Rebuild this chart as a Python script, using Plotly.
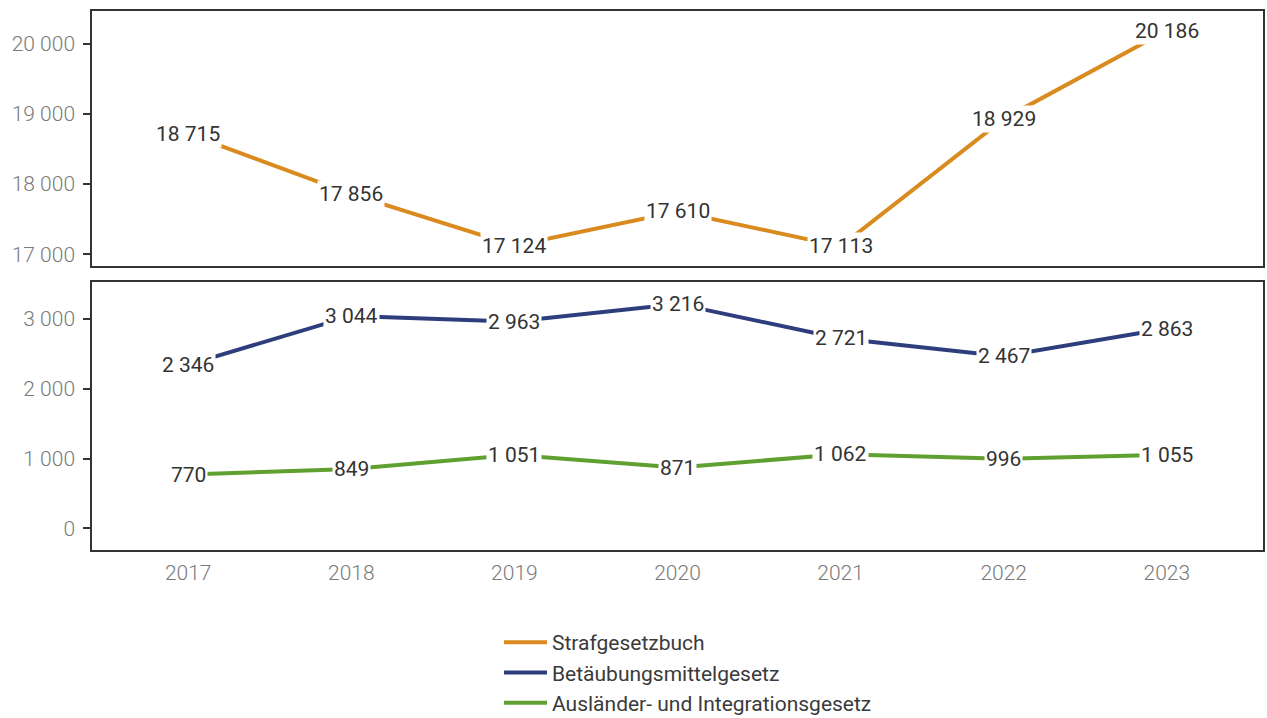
import plotly.graph_objects as go

# Annual counts by legal basis
years = [2017, 2018, 2019, 2020, 2021, 2022, 2023]
strafgesetzbuch = [18715, 17856, 17124, 17610, 17113, 18929, 20186]
betaeubungsmittelgesetz = [2346, 3044, 2963, 3216, 2721, 2467, 2863]
auslaendergesetz = [770, 849, 1051, 871, 1062, 996, 1055]

series_names = ["Strafgesetzbuch", "Betäubungsmittelgesetz",
                "Ausländer- und Integrationsgesetz"]
colors = ["#DA8B20", "#2E3E7D", "#60A030"]

W, H = 1267, 718
FONT = "Roboto"
LABEL_COLOR = "#333333"
TICK_COLOR = "#7a7a7a"
FRAME = "#333333"


def fmt(v):
    return f"{v:,}".replace(",", " ")


fig = go.Figure()

panels = [
    (strafgesetzbuch, series_names[0], colors[0], "x", "y"),
    (betaeubungsmittelgesetz, series_names[1], colors[1], "x2", "y2"),
    (auslaendergesetz, series_names[2], colors[2], "x2", "y2"),
]

annotations = []
for values, name, color, xa, ya in panels:
    fig.add_trace(go.Scatter(
        x=years, y=values, name=name, mode="lines",
        line=dict(color=color, width=4),
        xaxis=xa, yaxis=ya, hoverinfo="skip",
    ))
    for xv, yv in zip(years, values):
        annotations.append(dict(
            x=xv, y=yv, xref=xa, yref=ya, text=fmt(yv),
            showarrow=False, bgcolor="white", borderpad=1,
            font=dict(family=FONT, size=21, color=LABEL_COLOR),
            xanchor="center", yanchor="middle",
        ))

axis_common = dict(
    showline=True, linecolor=FRAME, linewidth=1.5, mirror=True,
    showgrid=False, zeroline=False,
)
tick_font = dict(family=FONT, size=21, color=TICK_COLOR, weight=300)
yaxis_common = dict(
    axis_common, ticks="outside", ticklen=7, tickwidth=1.5, tickcolor=FRAME,
    tickfont=tick_font, ticklabelstandoff=4,
)

fig.update_layout(
    width=W, height=H,
    margin=dict(l=92, r=4, t=11, b=168, autoexpand=False),
    paper_bgcolor="white", plot_bgcolor="white",
    separators=", ",
    font=dict(family=FONT, color=LABEL_COLOR),
    showlegend=True,
    legend=dict(
        orientation="v", x=(499 - 92) / 1171, xanchor="left",
        y=(550 - 622) / 539, yanchor="top",
        font=dict(family=FONT, size=21, color="#3a3a3a"),
        tracegroupgap=0, itemwidth=43,
    ),
    xaxis=dict(axis_common, domain=[0, 1], anchor="y",
               range=[2016.41, 2023.59], showticklabels=False, ticks=""),
    xaxis2=dict(axis_common, domain=[0, 1], anchor="y2", matches="x",
                range=[2016.41, 2023.59], tickvals=years, ticks="",
                tickfont=tick_font, ticklabelstandoff=3),
    yaxis=dict(yaxis_common, domain=[0.5275, 1], anchor="x",
               range=[16838, 20464], tickvals=[17000, 18000, 19000, 20000],
               tickformat=",d"),
    yaxis2=dict(yaxis_common, domain=[0, 0.4967], anchor="x2",
                range=[-311, 3526], tickvals=[0, 1000, 2000, 3000],
                tickformat=",d"),
    annotations=annotations,
)

fig.write_html("out.html")
